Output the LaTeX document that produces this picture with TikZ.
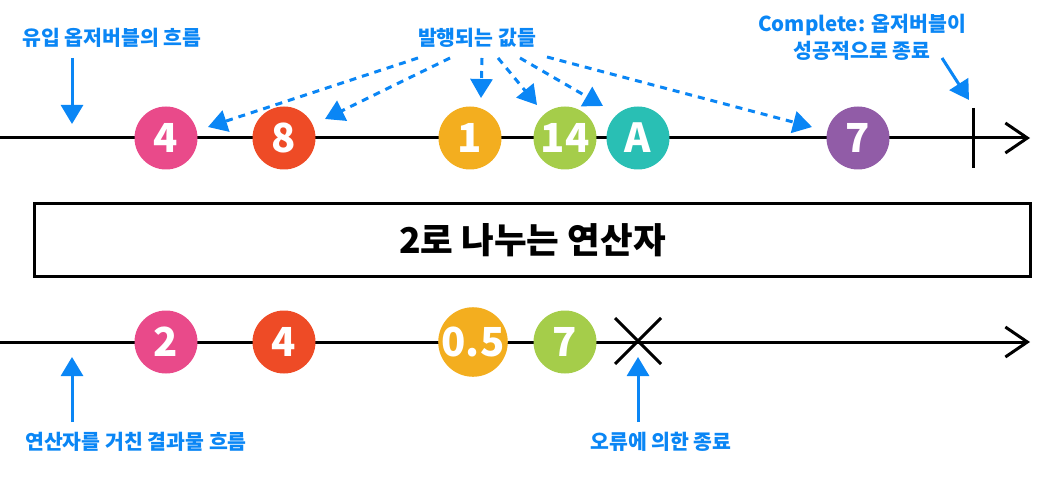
\documentclass[tikz,border=0pt]{standalone}
\usepackage{fontspec}
\setmainfont{Noto Sans CJK KR}
\usetikzlibrary{arrows.meta,positioning}
\definecolor{noteblue}{HTML}{0A86F5}
\definecolor{ballpink}{HTML}{E94A8A}
\definecolor{ballred}{HTML}{EE4B26}
\definecolor{ballyellow}{HTML}{F3AE1F}
\definecolor{ballgreen}{HTML}{A5CD4A}
\definecolor{ballteal}{HTML}{29BFB4}
\definecolor{ballpurple}{HTML}{915CA7}

\begin{document}
\begin{tikzpicture}[x=1pt,y=-1pt,
    ball/.style={circle,minimum size=63pt,inner sep=0pt,text=white,
      font=\fontsize{40}{44}\selectfont\bfseries},
    note/.style={text=noteblue,font=\fontsize{20.5}{27}\selectfont\bfseries},
    timeline/.style={line width=3pt,-{Straight Barb[length=22pt,width=30pt,line width=3pt]}},
    pointer/.style={noteblue,line width=3pt,-{Triangle[length=19pt,width=22pt]}},
    emitted/.style={pointer,dash pattern=on 7pt off 6pt}]
  \useasboundingbox (0,0) rectangle (1057,481);
  % Input stream
  \coordinate (inStart) at (0,138);
  \coordinate (inEnd) at (1030,138);
  \draw[timeline] (inStart) -- (inEnd);
  \node[ball,fill=ballpink] (in4) at (166,138) {4};
  \node[ball,fill=ballred] (in8) at (284,138) {8};
  \node[ball,fill=ballyellow] (in1) at (470,138) {1};
  \node[ball,fill=ballgreen] (in14) at (565,138) {14};
  \node[ball,fill=ballteal] (inA) at (638,138) {A};
  \node[ball,fill=ballpurple] (in7) at (858,138) {7};
  % Complete tick
  \coordinate (doneTop) at (973,108);
  \coordinate (doneBot) at (973,168);
  \draw[line width=3pt] (doneTop) -- (doneBot);
  % Operator box
  \node[draw,line width=3pt,minimum width=996pt,minimum height=73pt,
    font=\fontsize{35.5}{38}\selectfont\bfseries] (op) at (532.5,240) {2로 나누는 연산자};
  % Output stream
  \coordinate (outStart) at (0,342);
  \coordinate (outEnd) at (1030,342);
  \draw[timeline] (outStart) -- (outEnd);
  \node[ball,fill=ballpink] (out2) at (166,342) {2};
  \node[ball,fill=ballred] (out4) at (284,342) {4};
  \node[ball,fill=ballyellow] (out05) at (473,342) {0.5};
  \node[ball,fill=ballgreen] (out7) at (565,342) {7};
  % Error cross
  \coordinate (errA) at (615,318);
  \coordinate (errB) at (661,364);
  \coordinate (errC) at (615,364);
  \coordinate (errD) at (661,318);
  \draw[line width=3pt] (errA) -- (errB) (errC) -- (errD);
  % Labels
  \node[note] (inLbl) at (112,38) {유입 옵저버블의 흐름};
  \coordinate (inFrom) at (72,58);
  \coordinate (inTo) at (72,124);
  \draw[pointer] (inFrom) -- (inTo);
  \node[note] (valLbl) at (477,38) {발행되는 값들};
  \coordinate (v1s) at (418,58);  \coordinate (v1e) at (208,127);
  \coordinate (v2s) at (450,58);  \coordinate (v2e) at (325,119);
  \coordinate (v3s) at (482,58);  \coordinate (v3e) at (481,98);
  \coordinate (v4s) at (498,58);  \coordinate (v4e) at (537,105);
  \coordinate (v5s) at (520,58);  \coordinate (v5e) at (603,106);
  \coordinate (v6s) at (547,57);  \coordinate (v6e) at (812,127);
  \foreach \v in {1,...,6}
    \draw[emitted] (v\v s) -- (v\v e);
  \node[note,align=center] (doneLbl) at (862,37) {Complete: 옵저버블이\\성공적으로 종료};
  \coordinate (doneFrom) at (942,58);
  \coordinate (doneTo) at (969,100);
  \draw[pointer] (doneFrom) -- (doneTo);
  \node[note] (outLbl) at (136,442) {연산자를 거친 결과물 흐름};
  \coordinate (outFrom) at (72,422);
  \coordinate (outTo) at (72,357);
  \draw[pointer] (outFrom) -- (outTo);
  \node[note] (errLbl) at (661,442) {오류에 의한 종료};
  \coordinate (errFrom) at (638,422);
  \coordinate (errTo) at (638,357);
  \draw[pointer] (errFrom) -- (errTo);
\end{tikzpicture}
\end{document}
